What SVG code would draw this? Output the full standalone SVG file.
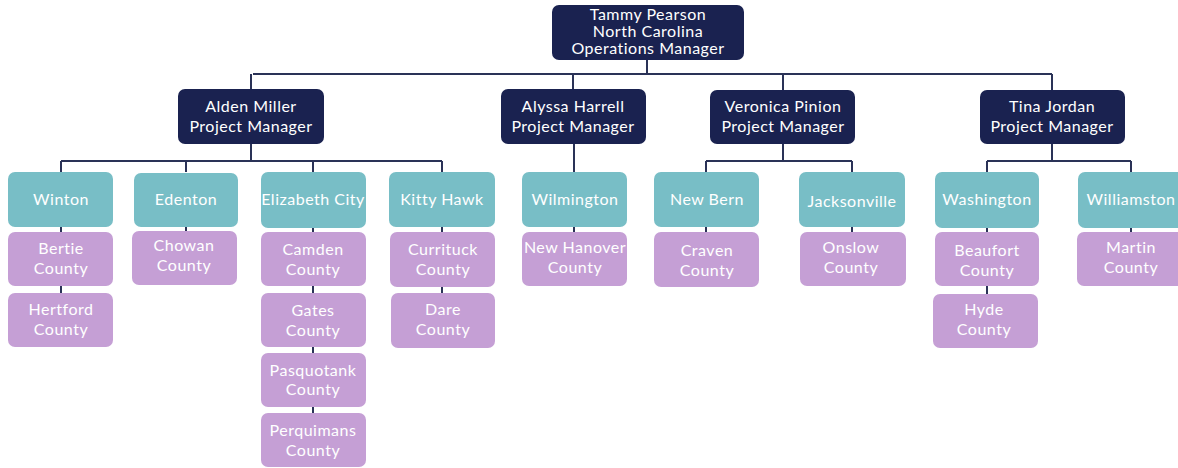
<svg xmlns="http://www.w3.org/2000/svg" width="1178" height="468" viewBox="0 0 1178 468">
  <style>
    .mgr rect { fill: #1a2250; }
    .city rect { fill: #78bec6; }
    .cty rect { fill: #c59fd5; }
    text { font-family: "Lato", "Noto Sans", sans-serif; font-size: 16px; letter-spacing: 0.5px; fill: #ffffff; text-anchor: middle; }
    .links path { fill: none; stroke: #2a3257; stroke-width: 2; }
  </style>
  <rect width="1178" height="468" fill="#ffffff"/>

  <!-- reporting lines -->
  <g class="links">
    <path d="M647 60V74M253 74H1052M251 74V89M573 74V89M783 74V90M1052 74V90"/>
    <path d="M251 144V161M61 161H442M61 161V172M186 161V172M313 161V172M442 161V172"/>
    <path d="M574 144V172"/>
    <path d="M783 144V161M706 161H852M706 161V172M852 161V172"/>
    <path d="M1052 144V161M987 161H1131M987 161V172M1131 161V172"/>
    <path d="M61 227V232M61 286V293"/>
    <path d="M186 227V231"/>
    <path d="M313 228V232M313 286V293M313 347V353M313 407V413"/>
    <path d="M442 227V232M442 287V293"/>
    <path d="M574 227V232M706 227V232M852 227V232"/>
    <path d="M987 228V232M987 286V294M1131 228V232"/>
  </g>

  <g id="tammy-pearson" class="mgr">
    <rect x="552" y="5" width="192" height="55" rx="7"/>
    <text x="648" y="19.5">Tammy Pearson</text>
    <text x="648" y="36.5">North Carolina</text>
    <text x="648" y="53.5">Operations Manager</text>
  </g>

  <g id="alden-miller" class="mgr">
    <rect x="178" y="89" width="146" height="55" rx="7"/>
    <text x="251" y="112">Alden Miller</text>
    <text x="251" y="132">Project Manager</text>
  </g>
  <g id="alyssa-harrell" class="mgr">
    <rect x="501" y="89" width="145" height="55" rx="7"/>
    <text x="573" y="112">Alyssa Harrell</text>
    <text x="573" y="132">Project Manager</text>
  </g>
  <g id="veronica-pinion" class="mgr">
    <rect x="710" y="90" width="145" height="54" rx="7"/>
    <text x="783" y="112">Veronica Pinion</text>
    <text x="783" y="132">Project Manager</text>
  </g>
  <g id="tina-jordan" class="mgr">
    <rect x="980" y="90" width="145" height="54" rx="7"/>
    <text x="1052" y="112">Tina Jordan</text>
    <text x="1052" y="132">Project Manager</text>
  </g>

  <g id="winton" class="city">
    <rect x="8" y="172" width="105" height="55" rx="7"/>
    <text x="61" y="205">Winton</text>
  </g>
  <g id="edenton" class="city">
    <rect x="134" y="173" width="104" height="54" rx="7"/>
    <text x="186" y="205">Edenton</text>
  </g>
  <g id="elizabeth-city" class="city">
    <rect x="261" y="172" width="105" height="56" rx="7"/>
    <text x="313" y="205">Elizabeth City</text>
  </g>
  <g id="kitty-hawk" class="city">
    <rect x="389" y="172" width="106" height="55" rx="7"/>
    <text x="442" y="205">Kitty Hawk</text>
  </g>
  <g id="wilmington" class="city">
    <rect x="522" y="172" width="105" height="55" rx="7"/>
    <text x="575" y="205">Wilmington</text>
  </g>
  <g id="new-bern" class="city">
    <rect x="654" y="172" width="105" height="55" rx="7"/>
    <text x="707" y="205">New Bern</text>
  </g>
  <g id="jacksonville" class="city">
    <rect x="799" y="172" width="106" height="55" rx="7"/>
    <text x="852" y="207">Jacksonville</text>
  </g>
  <g id="washington" class="city">
    <rect x="935" y="172" width="104" height="56" rx="7"/>
    <text x="987" y="205">Washington</text>
  </g>
  <g id="williamston" class="city">
    <rect x="1078" y="172" width="106" height="56" rx="7"/>
    <text x="1131" y="205">Williamston</text>
  </g>

  <g id="bertie-county" class="cty">
    <rect x="8" y="232" width="105" height="54" rx="7"/>
    <text x="61" y="254">Bertie</text>
    <text x="61" y="274">County</text>
  </g>
  <g id="hertford-county" class="cty">
    <rect x="8" y="293" width="105" height="54" rx="7"/>
    <text x="61" y="315">Hertford</text>
    <text x="61" y="335">County</text>
  </g>
  <g id="chowan-county" class="cty">
    <rect x="132" y="231" width="105" height="54" rx="7"/>
    <text x="184" y="251">Chowan</text>
    <text x="184" y="271">County</text>
  </g>
  <g id="camden-county" class="cty">
    <rect x="261" y="232" width="105" height="54" rx="7"/>
    <text x="313" y="255">Camden</text>
    <text x="313" y="275">County</text>
  </g>
  <g id="gates-county" class="cty">
    <rect x="261" y="293" width="105" height="54" rx="7"/>
    <text x="313" y="316">Gates</text>
    <text x="313" y="336">County</text>
  </g>
  <g id="pasquotank-county" class="cty">
    <rect x="261" y="353" width="105" height="54" rx="7"/>
    <text x="313" y="376">Pasquotank</text>
    <text x="313" y="395">County</text>
  </g>
  <g id="perquimans-county" class="cty">
    <rect x="261" y="413" width="105" height="54" rx="7"/>
    <text x="313" y="436">Perquimans</text>
    <text x="313" y="456">County</text>
  </g>
  <g id="currituck-county" class="cty">
    <rect x="390" y="232" width="105" height="55" rx="7"/>
    <text x="443" y="255">Currituck</text>
    <text x="443" y="275">County</text>
  </g>
  <g id="dare-county" class="cty">
    <rect x="391" y="293" width="104" height="55" rx="7"/>
    <text x="443" y="315">Dare</text>
    <text x="443" y="335">County</text>
  </g>
  <g id="new-hanover-county" class="cty">
    <rect x="522" y="232" width="105" height="54" rx="7"/>
    <text x="575" y="253">New Hanover</text>
    <text x="575" y="273">County</text>
  </g>
  <g id="craven-county" class="cty">
    <rect x="654" y="232" width="105" height="55" rx="7"/>
    <text x="707" y="256">Craven</text>
    <text x="707" y="276">County</text>
  </g>
  <g id="onslow-county" class="cty">
    <rect x="800" y="232" width="106" height="54" rx="7"/>
    <text x="851" y="253">Onslow</text>
    <text x="851" y="273">County</text>
  </g>
  <g id="beaufort-county" class="cty">
    <rect x="935" y="232" width="104" height="54" rx="7"/>
    <text x="987" y="256">Beaufort</text>
    <text x="987" y="276">County</text>
  </g>
  <g id="hyde-county" class="cty">
    <rect x="933" y="294" width="105" height="54" rx="7"/>
    <text x="984" y="315">Hyde</text>
    <text x="984" y="335">County</text>
  </g>
  <g id="martin-county" class="cty">
    <rect x="1077" y="232" width="107" height="54" rx="7"/>
    <text x="1131" y="253">Martin</text>
    <text x="1131" y="273">County</text>
  </g>
</svg>
